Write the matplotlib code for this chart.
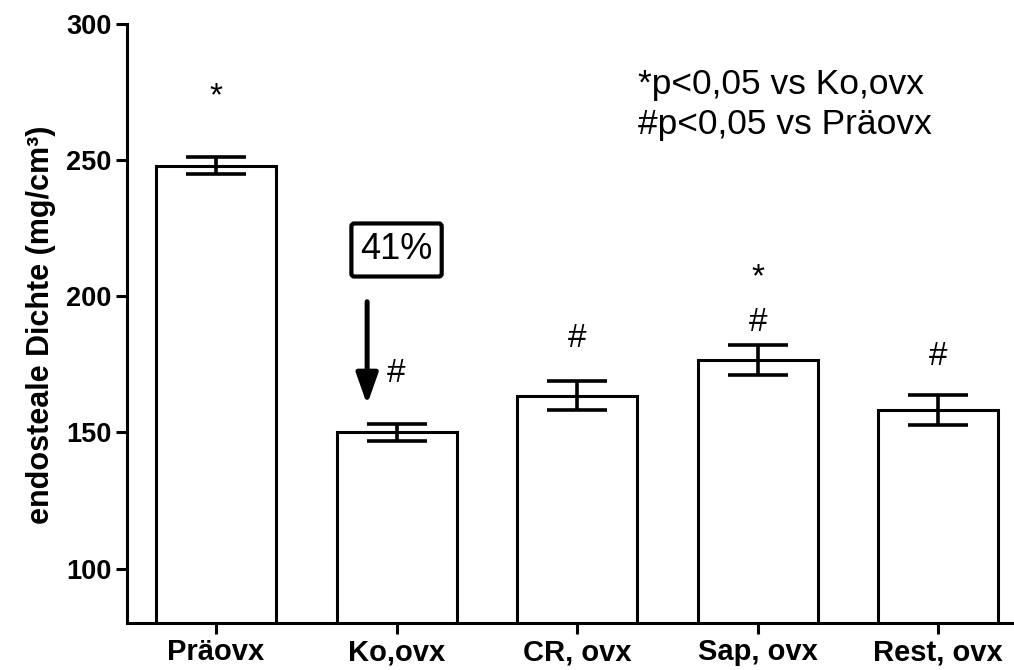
import matplotlib
matplotlib.use("Agg")
import matplotlib.pyplot as plt
import numpy as np

plt.rcParams['font.family'] = ['Liberation Sans', 'DejaVu Sans']

# ---- data ----
categories = ["Präovx", "Ko,ovx", "CR, ovx", "Sap, ovx", "Rest, ovx"]
means = [248.0, 150.0, 163.5, 176.6, 158.4]
sem = [3.0, 3.0, 5.3, 5.6, 5.5]
yticks = [100, 150, 200, 250, 300]
ylabel = "endosteale Dichte (mg/cm³)"

# significance markers: (category index, label, y baseline in data units)
marker_idx = [0, 1, 2, 3, 3, 4]
marker_txt = ["*", "#", "#", "#", "*", "#"]
marker_y = [270.0, 168.4, 181.5, 187.3, 203.5, 174.7]

legend_lines = ["*p<0,05 vs Ko,ovx", "#p<0,05 vs Präovx"]
pct_label = "41%"
pct_box_y = 217.0
arrow_x = 0.837
arrow_from, arrow_to = 198.0, 160.2

# ---- figure ----
W, H = 1014, 670
fig = plt.figure(figsize=(W / 100, H / 100), dpi=100)
ax = fig.add_axes([127 / W, 1 - 623 / H, (W - 127) / W, (623 - 24) / H])

x = np.arange(len(categories))
lw = 2.2
ax.bar(x, means, width=0.665, color="white", edgecolor="black", linewidth=lw, zorder=2)
ax.errorbar(x, means, yerr=sem, fmt="none", ecolor="black", elinewidth=2.6,
            capsize=21.5, capthick=2.6, zorder=3)

ax.set_xlim(-0.493, 4.42)
ax.set_ylim(80, 300)
ax.set_yticks(yticks)
ax.set_xticks(x)
ax.set_xticklabels(categories, fontsize=21, fontweight="bold")
ax.set_yticklabels([str(t) for t in yticks], fontsize=19.5, fontweight="bold")
ax.tick_params(axis="both", width=lw, length=8, color="black")
ax.tick_params(axis="x", pad=3)
ax.tick_params(axis="y", pad=3)

for s in ["top", "right"]:
    ax.spines[s].set_visible(False)
for s in ["left", "bottom"]:
    ax.spines[s].set_linewidth(lw)
    ax.spines[s].set_capstyle("projecting")

fig.text(41 / W, 1 - 325 / H, ylabel, rotation=90, ha="center", va="center",
         fontsize=22, fontweight="bold")

for i, t, yy in zip(marker_idx, marker_txt, marker_y):
    ax.text(i, yy, t, ha="center", va="baseline", fontsize=24)

for k, line in enumerate(legend_lines):
    fig.text(638 / W, 1 - (94 + 40 * k) / H, line, ha="left", va="baseline", fontsize=25.5)

ax.text(1.0, pct_box_y, pct_label, ha="center", va="center", fontsize=26,
        bbox=dict(boxstyle="round,pad=0.25,rounding_size=0.08", facecolor="white",
                  edgecolor="black", linewidth=3.0))

ax.annotate("", xy=(arrow_x, arrow_to), xytext=(arrow_x, arrow_from),
            arrowprops=dict(arrowstyle="-|>,head_length=0.85,head_width=0.3",
                            mutation_scale=22, lw=3.6, color="black",
                            shrinkA=0, shrinkB=0))

fig.savefig("out.png", dpi=100)
